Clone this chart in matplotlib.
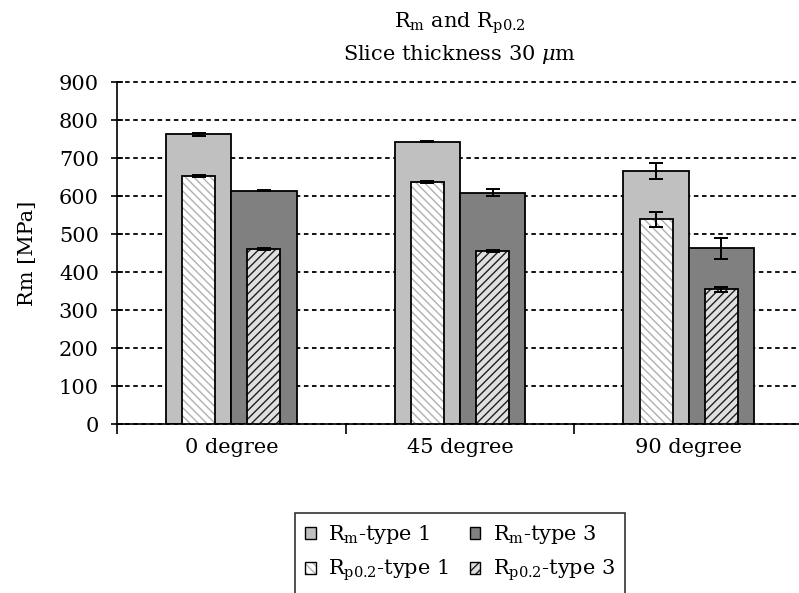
import numpy as np
import matplotlib
matplotlib.use("Agg")
import matplotlib.pyplot as plt
from matplotlib.patches import Patch
from matplotlib.legend_handler import HandlerTuple

plt.rcParams['font.family'] = ['DejaVu Serif']
plt.rcParams['mathtext.fontset'] = 'dejavuserif'
plt.rcParams['hatch.linewidth'] = 1.0

categories = ["0 degree", "45 degree", "90 degree"]
rm_type1 = [762, 743, 666]
rm_type1_err = [3, 2, 20]
rm_type3 = [614, 609, 462]
rm_type3_err = [2, 10, 28]
rp_type1 = [652, 637, 539]
rp_type1_err = [3, 2, 20]
rp_type3 = [460, 456, 354]
rp_type3_err = [2, 3, 7]
yticks = [0, 100, 200, 300, 400, 500, 600, 700, 800, 900]

FS = 15

fig = plt.figure(figsize=(7.99, 5.93), dpi=100)
ax = fig.add_axes([117/799, (593-424)/593, (803-117)/799, (424-82)/593])

x = np.arange(len(categories))
w_outer = 0.285
w_inner = 0.145
off = w_outer / 2

ax.set_axisbelow(True)
ek = dict(ecolor='black', elinewidth=1.4, capsize=5, capthick=1.4)

RP1_BG, RP1_HATCH = 'white', '#B0B0B0'
RP3_BG, RP3_HATCH = '#E0E0E0', '#202020'

# outer Rm bars
ax.bar(x - off, rm_type1, w_outer, color='#C0C0C0', edgecolor='black', linewidth=1.3,
       yerr=rm_type1_err, error_kw=ek, zorder=2)
ax.bar(x + off, rm_type3, w_outer, color='#808080', edgecolor='black', linewidth=1.3,
       yerr=rm_type3_err, error_kw=ek, zorder=2)

# inner Rp0.2 bars: hatched fill, then outline
ax.bar(x - off, rp_type1, w_inner, color=RP1_BG, edgecolor=RP1_HATCH, hatch='\\\\\\\\',
       linewidth=0, zorder=3)
ax.bar(x - off, rp_type1, w_inner, fill=False, edgecolor='black', linewidth=1.3,
       yerr=rp_type1_err, error_kw=ek, zorder=4)
ax.bar(x + off, rp_type3, w_inner, color=RP3_BG, edgecolor=RP3_HATCH, hatch='////',
       linewidth=0, zorder=3)
ax.bar(x + off, rp_type3, w_inner, fill=False, edgecolor='black', linewidth=1.3,
       yerr=rp_type3_err, error_kw=ek, zorder=4)

ax.set_xlim(-0.5, 2.5)
ax.set_ylim(0, 900)
ax.set_yticks(yticks)
ax.yaxis.grid(True, color='black', linestyle=(0, (2.5, 2.0)), linewidth=1.3)
for gl in ax.get_ygridlines():
    gl.set_clip_on(False)
ax.tick_params(axis='y', direction='inout', length=8, width=1.2, labelsize=FS, pad=9)

ax.set_xticks(x)
ax.set_xticklabels(categories)
ax.set_xticks(np.arange(-0.5, 3.0, 1.0), minor=True)
ax.tick_params(axis='x', which='major', length=0, labelsize=FS, pad=10)
ax.tick_params(axis='x', which='minor', direction='out', length=7, width=1.2)

for s in ['top', 'right']:
    ax.spines[s].set_visible(False)
for s in ['left', 'bottom']:
    ax.spines[s].set_linewidth(1.2)

ax.set_ylabel("Rm [MPa]", fontsize=FS, va='center')
ax.yaxis.set_label_coords((27 - 117) / 686, 0.5)

fig.text(460/799, 1 - 23/593, r"R$_\mathrm{m}$ and R$_\mathrm{p0.2}$", ha='center', va='center', fontsize=FS)
fig.text(460/799, 1 - 54/593, r"Slice thickness 30 $\mu$m", ha='center', va='center', fontsize=FS)

h_rm1 = Patch(facecolor='#C0C0C0', edgecolor='black', linewidth=1.0)
h_rm3 = Patch(facecolor='#808080', edgecolor='black', linewidth=1.0)
h_rp1 = (Patch(facecolor=RP1_BG, edgecolor=RP1_HATCH, linewidth=0, hatch='\\\\\\\\'),
         Patch(fill=False, edgecolor='black', linewidth=1.0))
h_rp3 = (Patch(facecolor=RP3_BG, edgecolor=RP3_HATCH, linewidth=0, hatch='////'),
         Patch(fill=False, edgecolor='black', linewidth=1.0))
handles = [h_rm1, h_rp1, h_rm3, h_rp3]
labels = [r"R$_\mathrm{m}$-type 1", r"R$_\mathrm{p0.2}$-type 1",
          r"R$_\mathrm{m}$-type 3", r"R$_\mathrm{p0.2}$-type 3"]
leg = fig.legend(handles, labels, ncol=2, loc='upper center',
                 bbox_to_anchor=(460/799, 1 - 513/593), borderaxespad=0, fontsize=FS,
                 frameon=True, fancybox=False, edgecolor='black',
                 handler_map={tuple: HandlerTuple(ndivide=1, pad=0)},
                 handlelength=0.5, handleheight=0.5, handletextpad=0.6,
                 columnspacing=1.0, borderpad=0.5, labelspacing=0.55)
leg.get_frame().set_linewidth(1.2)

fig.savefig("out.png", dpi=100)
